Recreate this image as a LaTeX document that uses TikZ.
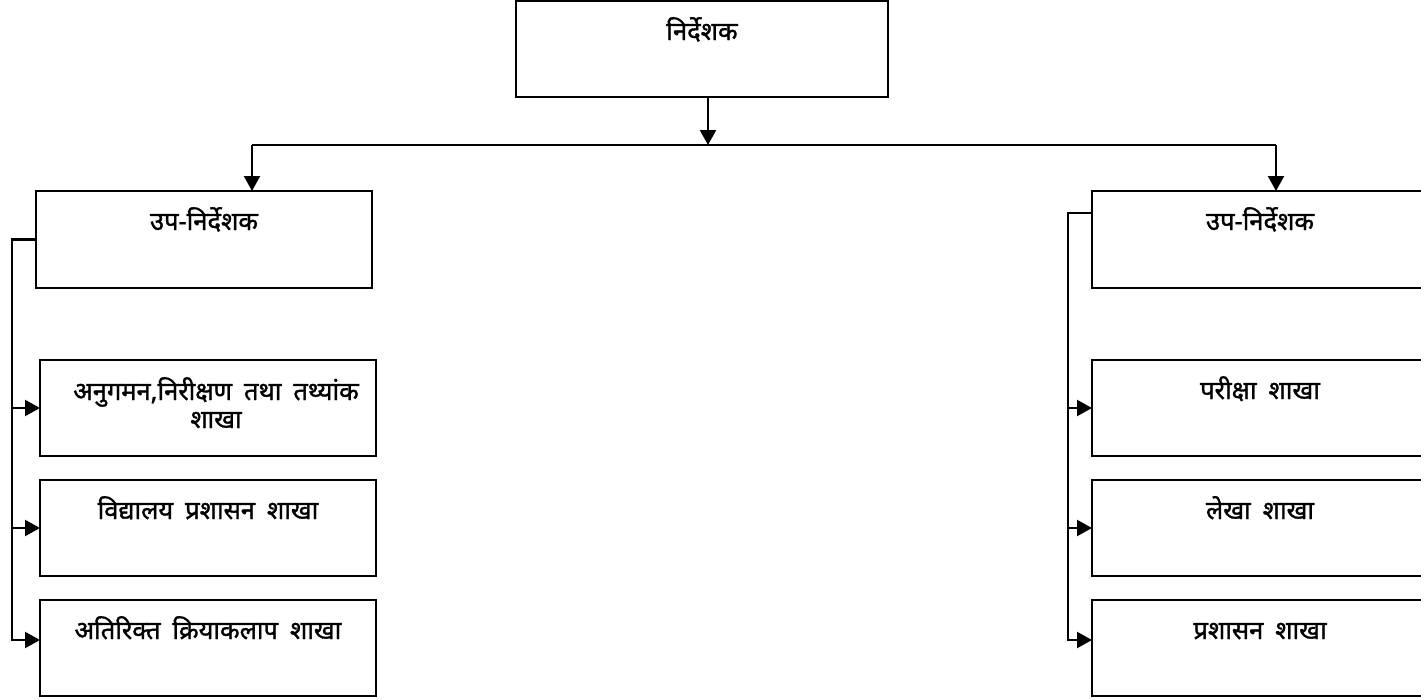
\documentclass[tikz,border=0pt]{standalone}
\usepackage{fontspec}
\newfontfamily\devfont[Script=Devanagari,FakeBold=1.3,WordSpace=1.8]{Noto Sans}
\usetikzlibrary{arrows.meta}
\tikzset{
  box/.style={draw,line width=2.2pt,minimum width=336pt,minimum height=96pt,inner sep=0pt,outer sep=0pt,anchor=north west},
  lbl/.style={anchor=base,font=\devfont\fontsize{25.5}{28}\selectfont,align=center,inner sep=0pt},
  conn/.style={line width=2.2pt,-{Triangle[length=15pt,width=16pt]}},
  wire/.style={line width=2.2pt}
}

\begin{document}
\begin{tikzpicture}[x=1pt,y=-1pt]
\useasboundingbox (0,0) rectangle (1421,699);

% boxes
\node[box,minimum width=372pt] (dir) at (516,1) {};
\node[box,minimum height=97pt] (subL) at (36,191) {};
\node[box,minimum height=97pt] (subR) at (1092,191) {};

\node[box] (brL1) at (40,360) {};
\node[box] (brL2) at (40,480) {};
\node[box] (brL3) at (40,600) {};
\node[box] (brR1) at (1092,360) {};
\node[box] (brR2) at (1092,480) {};
\node[box] (brR3) at (1092,600) {};

% texts
\node[lbl] (dirT) at ([yshift=-39pt]dir.north) {निर्देशक};
\node[lbl] (subLT) at ([yshift=-39pt]subL.north) {उप-निर्देशक};
\node[lbl] (subRT) at ([yshift=-39pt]subR.north) {उप-निर्देशक};
\node[lbl] (brL1T) at ([xshift=8pt,yshift=-68pt]brL1.north) {अनुगमन,निरीक्षण तथा तथ्यांक\\शाखा};
\node[lbl] (brL2T) at ([yshift=-39pt]brL2.north) {विद्यालय प्रशासन शाखा};
\node[lbl] (brL3T) at ([yshift=-39pt]brL3.north) {अतिरिक्त क्रियाकलाप शाखा};
\node[lbl] (brR1T) at ([yshift=-39pt]brR1.north) {परीक्षा शाखा};
\node[lbl] (brR2T) at ([yshift=-39pt]brR2.north) {लेखा शाखा};
\node[lbl] (brR3T) at ([yshift=-39pt]brR3.north) {प्रशासन शाखा};

% connectors
\coordinate (hub) at (708,145);
\coordinate (hubL) at (252,145);
\coordinate (hubR) at (1276,145);
\draw[conn] (dir.south -| hub) -- (hub);
\draw[wire] (hubL) -- (hubR);
\draw[conn] (hubL) -- (hubL |- subL.north);
\draw[conn] (hubR) -- (hubR |- subR.north);

\coordinate (busL) at (12,0);
\draw[conn] (subL.west) -- (subL.west -| busL) |- ([yshift=8pt]brL3.west);
\draw[conn] (brL1.west -| busL) -- (brL1.west);
\draw[conn] (brL2.west -| busL) -- (brL2.west);

\coordinate (busR) at (1068,0);
\draw[conn] ([yshift=26.5pt]subR.west) -- ([yshift=26.5pt]subR.west -| busR) |- ([yshift=8pt]brR3.west);
\draw[conn] (brR1.west -| busR) -- (brR1.west);
\draw[conn] (brR2.west -| busR) -- (brR2.west);

\end{tikzpicture}
\end{document}
